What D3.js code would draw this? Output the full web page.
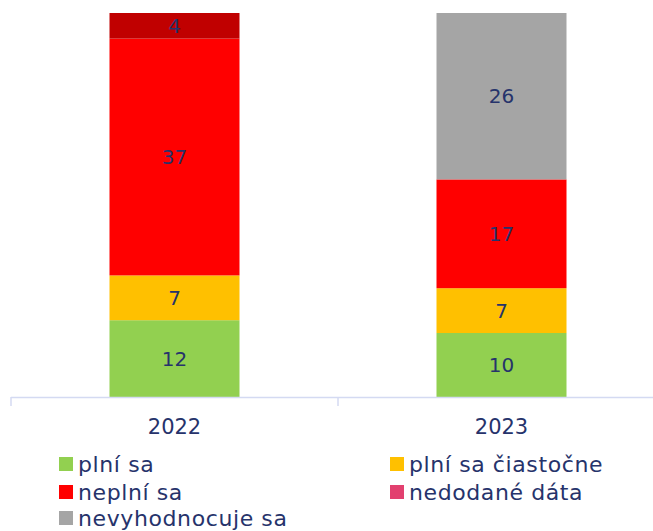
<!DOCTYPE html>
<html><head><meta charset="utf-8">
<script src="https://cdn.jsdelivr.net/npm/d3@7"></script>
<style>body{margin:0;background:#fff}svg{display:block}</style>
</head><body><svg id="c" width="653" height="531"></svg>
<script>
const categories = ["2022", "2023"];
const seriesNames = ["plní sa", "plní sa čiastočne", "neplní sa", "nedodané dáta", "nevyhodnocuje sa"];
const plniSa = [12, 10];
const plniSaCiastocne = [7, 7];
const neplniSa = [37, 17];
const nedodaneData = [4, 0];
const nevyhodnocujeSa = [0, 26];
const yMax = 60;

const values = [plniSa, plniSaCiastocne, neplniSa, nedodaneData, nevyhodnocujeSa];
const legendColors = ["#92D050", "#FFC000", "#FF0000", "#E2406F", "#A5A5A5"];
const barColors = ["#92D050", "#FFC000", "#FF0000", "#C00000", "#A5A5A5"];
const textColor = "#26336B";
const font = "'DejaVu Sans', Verdana, sans-serif";

const svg = d3.select("#c");
const x = d3.scaleBand().domain(categories).range([11, 665]).paddingInner(0).paddingOuter(0);
const y = d3.scaleLinear().domain([0, yMax]).range([397, 13]);
const barW = 130;

const rows = categories.map((c, i) => {
  const r = {cat: c};
  seriesNames.forEach((s, j) => r[s] = values[j][i]);
  return r;
});
const stack = d3.stack().keys(seriesNames)(rows);

stack.forEach((layer, j) => {
  const g = svg.append("g");
  layer.forEach(d => {
    const v = d[1] - d[0];
    if (v <= 0) return;
    const cx = x(d.data.cat) + x.bandwidth() / 2;
    g.append("rect")
      .attr("x", cx - barW / 2).attr("width", barW)
      .attr("y", y(d[1])).attr("height", y(d[0]) - y(d[1]))
      .attr("fill", barColors[j]);
    g.append("text")
      .attr("x", cx).attr("y", (y(d[0]) + y(d[1])) / 2)
      .attr("dy", "0.36em").attr("text-anchor", "middle")
      .attr("font-family", font).attr("font-size", 20)
      .attr("fill", textColor).text(v);
  });
});

// axis
const axisColor = "#D4DAF2";
svg.append("line").attr("x1", 11).attr("x2", 653).attr("y1", 397.5).attr("y2", 397.5)
  .attr("stroke", axisColor).attr("stroke-width", 1.5);
[...categories.map(c => x(c)), x.range()[1]].forEach(t => {
  svg.append("line").attr("x1", t).attr("x2", t).attr("y1", 397).attr("y2", 406)
    .attr("stroke", axisColor).attr("stroke-width", 1.5);
});
categories.forEach(c => {
  svg.append("text").attr("x", x(c) + x.bandwidth() / 2).attr("y", 433.5)
    .attr("text-anchor", "middle").attr("font-family", font)
    .attr("font-size", 21).attr("fill", textColor).text(c);
});

// legend
const legPos = [[59, 464], [390, 464], [59, 492], [390, 492], [59, 518]];
seriesNames.forEach((s, j) => {
  const [lx, ly] = legPos[j];
  svg.append("rect").attr("x", lx).attr("y", ly - 7).attr("width", 14).attr("height", 14)
    .attr("fill", legendColors[j]);
  svg.append("text").attr("x", lx + 19).attr("y", ly).attr("dy", "0.36em")
    .attr("font-family", font).attr("font-size", 22).attr("letter-spacing", "0.6px")
    .attr("fill", textColor).text(s);
});
</script></body></html>
